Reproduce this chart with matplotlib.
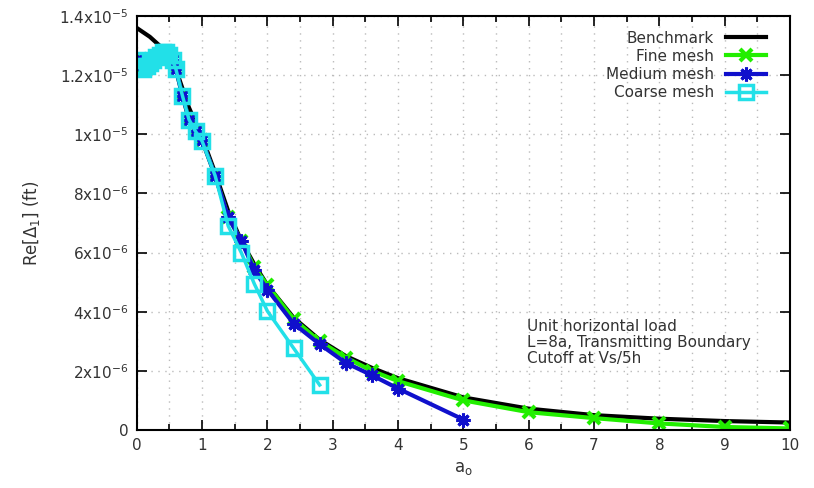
import numpy as np
import matplotlib
matplotlib.use('Agg')
import matplotlib.pyplot as plt
from matplotlib.ticker import MultipleLocator, FixedLocator

# benchmark curve
bench_a = [0, 0.2, 0.4, 0.6, 0.8, 1.0, 1.2, 1.4, 1.6, 1.8, 2.0, 2.4, 2.8, 3.2, 3.6,
           4.0, 5.0, 6.0, 7.0, 8.0, 9.0, 10.0]
bench_re = [13.6, 13.3, 12.9, 12.2, 10.9, 9.9, 8.7, 7.4, 6.4, 5.6, 4.9, 3.8, 3.05,
            2.5, 2.1, 1.75, 1.1, 0.72, 0.5, 0.38, 0.3, 0.25]

# low-frequency cluster shared by all meshes
low_a = [0, 0.05, 0.1, 0.15, 0.2, 0.25, 0.3, 0.35, 0.4, 0.45, 0.5, 0.55, 0.6]
low_re = [12.5, 12.3, 12.2, 12.3, 12.4, 12.5, 12.6, 12.7, 12.8, 12.8, 12.7, 12.5, 12.2]

fine_a = low_a + [0.7, 0.8, 0.9, 1.0, 1.2, 1.4, 1.6, 1.8, 2.0, 2.4, 2.8, 3.2, 3.6,
                  4.0, 5.0, 6.0, 7.0, 8.0, 9.0, 10.0]
fine_re = low_re + [11.3, 10.5, 10.1, 9.8, 8.6, 7.2, 6.4, 5.5, 4.9, 3.75, 3.0, 2.45,
                    2.0, 1.65, 1.0, 0.6, 0.4, 0.22, 0.1, 0.05]

med_a = low_a + [0.7, 0.8, 0.9, 1.0, 1.2, 1.4, 1.6, 1.8, 2.0, 2.4, 2.8, 3.2, 3.6,
                 4.0, 5.0]
med_re = low_re + [11.3, 10.5, 10.1, 9.8, 8.6, 7.2, 6.4, 5.4, 4.75, 3.6, 2.9, 2.27,
                   1.85, 1.4, 0.35]

coarse_a = low_a + [0.7, 0.8, 0.9, 1.0, 1.2, 1.4, 1.6, 1.8, 2.0, 2.4, 2.8]
coarse_re = low_re + [11.3, 10.5, 10.1, 9.77, 8.6, 6.9, 6.0, 4.94, 4.02, 2.77, 1.52]

yticks = [0, 2, 4, 6, 8, 10, 12, 14]
ytick_labels = ['0', r'2x10$^{-6}$', r'4x10$^{-6}$', r'6x10$^{-6}$', r'8x10$^{-6}$',
                r'1x10$^{-5}$', r'1.2x10$^{-5}$', r'1.4x10$^{-5}$']

txt = '#333333'
fig = plt.figure(figsize=(8.14, 4.88), dpi=100)
ax = fig.add_axes([0.168, 0.119, 0.8025, 0.848])

sc = 1e-6
ax.plot(bench_a, np.array(bench_re) * sc, color='black', lw=3, label='Benchmark')
ax.plot(fine_a, np.array(fine_re) * sc, color='#22ee00', lw=3, marker='x', ms=9,
        mew=3, label='Fine mesh')
ax.plot(med_a, np.array(med_re) * sc, color='#1010cc', lw=3, marker=(8, 2, 0), ms=10,
        mew=2.2, label='Medium mesh')
ax.plot(coarse_a, np.array(coarse_re) * sc, color='#22e0e8', lw=2.5, marker='s', ms=10,
        mew=2.5, mfc='none', label='Coarse mesh')

ax.set_xlim(0, 10)
ax.set_ylim(0, 14e-6)
ax.xaxis.set_major_locator(MultipleLocator(1))
ax.xaxis.set_minor_locator(MultipleLocator(0.5))
ax.yaxis.set_major_locator(FixedLocator([v * sc for v in yticks]))
ax.set_yticklabels(ytick_labels)
ax.tick_params(which='both', direction='in', top=True, right=True, colors='black',
               labelcolor=txt, labelsize=11, pad=6)
ax.tick_params(which='major', length=7, width=1.2)
ax.tick_params(which='minor', length=4, width=1.2)
for s in ax.spines.values():
    s.set_linewidth(1.5)
ax.grid(which='both', axis='x', color='#bbbbbb', ls=(0, (1, 4)), lw=1)
ax.grid(which='major', axis='y', color='#bbbbbb', ls=(0, (1, 4)), lw=1)
ax.set_axisbelow(True)

ax.set_xlabel(r'a$_\mathregular{o}$', color=txt, fontsize=12)
ax.set_ylabel(r'Re[$\Delta_1$] (ft)', color=txt, fontsize=12, labelpad=12)

ax.text(5.97, 3.75e-6, 'Unit horizontal load\nL=8a, Transmitting Boundary\nCutoff at Vs/5h',
        color=txt, fontsize=11, va='top', ha='left', linespacing=1.1)

leg = ax.legend(loc='upper right', bbox_to_anchor=(0.968, 0.972), frameon=False,
                markerfirst=False, fontsize=11, handlelength=2.6, labelspacing=0.2,
                borderaxespad=0, borderpad=0.2)
for t in leg.get_texts():
    t.set_color(txt)

fig.savefig('out.png', dpi=100)
